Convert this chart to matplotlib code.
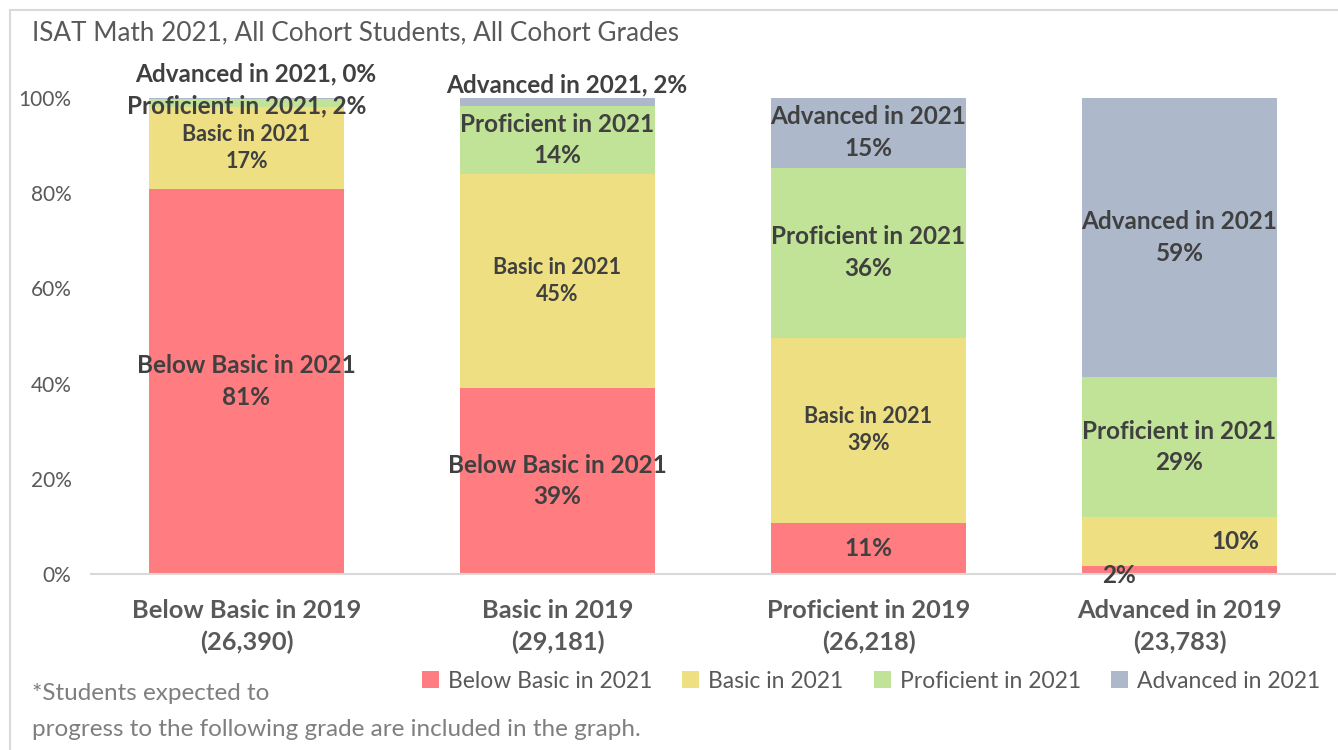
import matplotlib
matplotlib.use("Agg")
import matplotlib.pyplot as plt
from matplotlib.patches import Rectangle, Patch

plt.rcParams['font.family'] = ['Lato', 'DejaVu Sans']

categories = ["Below Basic in 2019\n(26,390)", "Basic in 2019\n(29,181)",
              "Proficient in 2019\n(26,218)", "Advanced in 2019\n(23,783)"]
series_names = ["Below Basic in 2021", "Basic in 2021", "Proficient in 2021", "Advanced in 2021"]
below_basic = [80.9, 39.1, 10.8, 1.6]
basic = [17.2, 45.0, 38.8, 10.4]
proficient = [1.7, 14.2, 35.8, 29.4]
advanced = [0.2, 1.7, 14.6, 58.6]
colors = ["#FF7C80", "#EDDF82", "#C1E397", "#ADB9CA"]
yticks = [0, 20, 40, 60, 80, 100]

fig = plt.figure(figsize=(13.38, 7.5), dpi=100)
ax = fig.add_axes([0.068, 0.2347, 0.9298, 0.6346])

x = list(range(len(categories)))
width = 0.625
series = [below_basic, basic, proficient, advanced]
bottoms = [0.0] * len(x)
for vals, col, name in zip(series, colors, series_names):
    ax.bar(x, vals, width, bottom=bottoms, color=col, label=name, zorder=2)
    bottoms = [bo + v for bo, v in zip(bottoms, vals)]

ax.set_xlim(-0.5, 3.5)
ax.set_ylim(0, 100)
ax.set_yticks(yticks)
ax.set_yticklabels([f"{t}%" for t in yticks], fontsize=15, color="#595959")
ax.set_xticks(x)
ax.set_xticklabels(categories, fontsize=18.3, fontweight="bold", color="#595959", linespacing=1.45)
ax.tick_params(axis='both', length=0)
ax.tick_params(axis='x', pad=18)
ax.tick_params(axis='y', pad=14)
for s in ["top", "right", "left"]:
    ax.spines[s].set_visible(False)
ax.spines["bottom"].set_color("#D9D9D9")
ax.spines["bottom"].set_linewidth(1.5)

lab_col = "#404040"
big = 17.5
small = 15.5
ls_big = 1.45
ls_small = 1.38

def seg_center(i, k):
    lo = sum(series[j][i] for j in range(k))
    return lo + series[k][i] / 2

def fmt(v):
    return f"{v:.0f}%"

# Bar 1
ax.text(0, seg_center(0, 0), f"Below Basic in 2021\n{fmt(below_basic[0])}", ha="center", va="center",
        fontsize=big, fontweight="bold", color=lab_col, linespacing=ls_big)
ax.text(0, seg_center(0, 1), f"Basic in 2021\n{fmt(basic[0])}", ha="center", va="center",
        fontsize=small, fontweight="bold", color=lab_col, linespacing=ls_small)
ax.text(0, 98.4, f"Proficient in 2021, {fmt(proficient[0])}", ha="center", va="center",
        fontsize=big, fontweight="bold", color=lab_col)
ax.text(0.03, 105.0, f"Advanced in 2021, {fmt(advanced[0])}", ha="center", va="center",
        fontsize=big, fontweight="bold", color=lab_col, clip_on=False)
# Bar 2
ax.text(1, seg_center(1, 0), f"Below Basic in 2021\n{fmt(below_basic[1])}", ha="center", va="center",
        fontsize=big, fontweight="bold", color=lab_col, linespacing=ls_big)
ax.text(1, seg_center(1, 1), f"Basic in 2021\n{fmt(basic[1])}", ha="center", va="center",
        fontsize=small, fontweight="bold", color=lab_col, linespacing=ls_small)
ax.text(1, seg_center(1, 2), f"Proficient in 2021\n{fmt(proficient[1])}", ha="center", va="center",
        fontsize=big, fontweight="bold", color=lab_col, linespacing=ls_big)
ax.text(1.03, 102.8, f"Advanced in 2021, {fmt(advanced[1])}", ha="center", va="center",
        fontsize=big, fontweight="bold", color=lab_col, clip_on=False)
# Bar 3
ax.text(2, seg_center(2, 0), fmt(below_basic[2]), ha="center", va="center",
        fontsize=big, fontweight="bold", color=lab_col)
ax.text(2, seg_center(2, 1), f"Basic in 2021\n{fmt(basic[2])}", ha="center", va="center",
        fontsize=small, fontweight="bold", color=lab_col, linespacing=ls_small)
for k in (2, 3):
    ax.text(2, seg_center(2, k), f"{series_names[k]}\n{fmt(series[k][2])}", ha="center", va="center",
            fontsize=big, fontweight="bold", color=lab_col, linespacing=ls_big)
# Bar 4
ax.text(2.805, -0.3, fmt(below_basic[3]), ha="center", va="center",
        fontsize=big, fontweight="bold", color=lab_col)
ax.text(3.18, seg_center(3, 1), fmt(basic[3]), ha="center", va="center",
        fontsize=big, fontweight="bold", color=lab_col)
for k in (2, 3):
    ax.text(3, seg_center(3, k), f"{series_names[k]}\n{fmt(series[k][3])}", ha="center", va="center",
            fontsize=big, fontweight="bold", color=lab_col, linespacing=ls_big)

# Title
fig.text(32 / 1338, 1 - 33 / 750, "ISAT Math 2021, All Cohort Students, All Cohort Grades",
         ha="left", va="center", fontsize=18.8, color="#595959")

# Legend
handles = [Patch(facecolor=c, edgecolor="none") for c in colors]
fig.legend(handles, series_names, loc="center", bbox_to_anchor=(871 / 1338, 1 - 681 / 750),
           ncol=4, frameon=False, fontsize=16.5, labelcolor="#595959",
           handlelength=0.75, handleheight=0.75, handletextpad=0.4, columnspacing=1.3)

# Footnote
fig.text(32 / 1338, 1 - 694 / 750, "*Students expected to", ha="left", va="center",
         fontsize=17.5, color="#7F7F7F")
fig.text(32 / 1338, 1 - 729 / 750, "progress to the following grade are included in the graph.",
         ha="left", va="center", fontsize=17.5, color="#7F7F7F")

# Chart border
fig.patches.append(Rectangle((10 / 1338, -0.01), 1.1, 1 - 10 / 750 + 0.01, transform=fig.transFigure,
                             fill=False, edgecolor="#D9D9D9", linewidth=1.5))

fig.savefig("out.png", dpi=100)
